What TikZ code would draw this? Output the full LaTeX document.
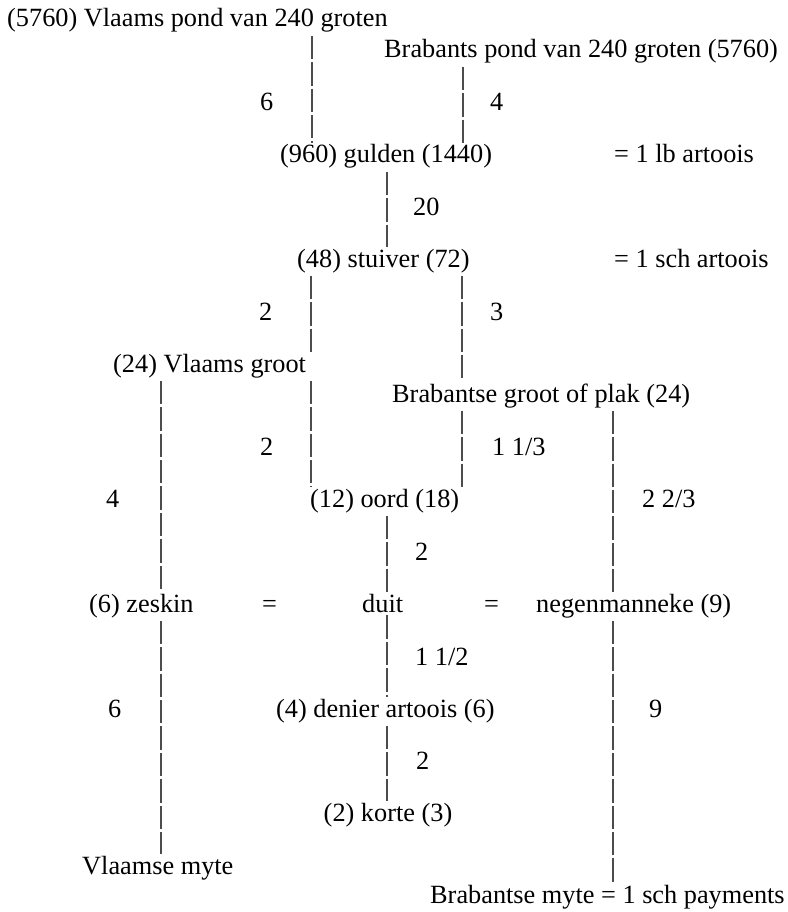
\documentclass[tikz,border=0pt]{standalone}
\usepackage{fontspec}
\setmainfont{Liberation Serif}
\usepackage{tikz}
\usetikzlibrary{positioning}

\begin{document}
\begin{tikzpicture}[
    x=1pt, y=-1pt,
    every node/.style={font=\fontsize{26.3}{32}\selectfont, inner sep=0pt, anchor=base west},
    coin/.style={},
    ratio/.style={},
    bar/.style={draw=black!70, line width=1.2pt, dash pattern=on 23.4pt off 3pt,
                shorten <=3pt, shorten >=2pt},
]
\useasboundingbox (0,0) rectangle (787,912);

% Bar positions
\coordinate (xVl)  at (312,0);
\coordinate (xBr)  at (463,0);
\coordinate (xMid) at (387,0);
\coordinate (xSl)  at (311,0);
\coordinate (xSr)  at (462,0);
\coordinate (xL)   at (161,0);
\coordinate (xR)   at (613,0);

% Coins
\node[coin] (pondVl)  at (7,27)    {(5760) Vlaams pond van 240 groten};
\node[coin] (pondBr)  at (384,58)  {Brabants pond van 240 groten (5760)};
\node[coin] (gulden)  at (280,163) {(960) gulden (1440)};
\node[coin] (stuiver) at (297,267) {(48) stuiver (72)};
\node[coin] (grootVl) at (113,372) {(24) Vlaams groot};
\node[coin] (grootBr) at (392,402) {Brabantse groot of plak (24)};
\node[coin] (oord)    at (310,507) {(12) oord (18)};
\node[coin] (zeskin)  at (89,612)  {(6) zeskin};
\node[coin] (duit)    at (362,612) {duit};
\node[coin] (negen)   at (536,612) {negenmanneke (9)};
\node[coin] (denier)  at (276,717) {(4) denier artoois (6)};
\node[coin, anchor=base] (korte) at (388,821) {(2) korte (3)};
\node[coin] (myteVl)  at (82,874)  {Vlaamse myte};
\node[coin] (myteBr)  at (430,903) {Brabantse myte = 1 sch payments};

% Equivalents
\node (eqLb)  at (614,163) {= 1 lb artoois};
\node (eqSch) at (614,267) {= 1 sch artoois};
\node (eqA)   at (262,612) {=};
\node (eqB)   at (484,612) {=};

% Ratios
\node[ratio] (rPondVl)  at (260,111) {6};
\node[ratio] (rPondBr)  at (490,111) {4};
\node[ratio] (rGulden)  at (413,215) {20};
\node[ratio] (rStuivL)  at (259,320) {2};
\node[ratio] (rStuivR)  at (490,320) {3};
\node[ratio] (rGrootVl) at (260,455) {2};
\node[ratio] (rGrootBr) at (492,455) {1 1/3};
\node[ratio] (rZeskin)  at (106,507) {4};
\node[ratio] (rNegen)   at (642,507) {2 2/3};
\node[ratio] (rOord)    at (415,560) {2};
\node[ratio] (rDuit)    at (415,665) {1 1/2};
\node[ratio] (rMyteVl)  at (108,717) {6};
\node[ratio] (rMyteBr)  at (649,717) {9};
\node[ratio] (rDenier)  at (416,769) {2};

% Bars
\draw[bar] (pondVl.south -| xVl)   -- (gulden.north -| xVl);
\draw[bar] (pondBr.south -| xBr)   -- (gulden.north -| xBr);
\draw[bar] (gulden.south -| xMid)  -- (stuiver.north -| xMid);
\draw[bar] (stuiver.south -| xSl)  -- (grootVl.north -| xSl);
\draw[bar] (grootVl.south -| xSl)  -- (oord.north -| xSl);
\draw[bar] (stuiver.south -| xSr)  -- (grootBr.north -| xSr);
\draw[bar] (grootBr.south -| xSr)  -- (oord.north -| xSr);
\draw[bar] (grootVl.south -| xL)   -- (zeskin.north -| xL);
\draw[bar] (zeskin.south -| xL)    -- (myteVl.north -| xL);
\draw[bar] (grootBr.south -| xR)   -- (negen.north -| xR);
\draw[bar] (negen.south -| xR)     -- (myteBr.north -| xR);
\draw[bar] (oord.south -| xMid)    -- (duit.north -| xMid);
\draw[bar] (duit.south -| xMid)    -- (denier.north -| xMid);
\draw[bar] (denier.south -| xMid)  -- (korte.north -| xMid);
\end{tikzpicture}
\end{document}
